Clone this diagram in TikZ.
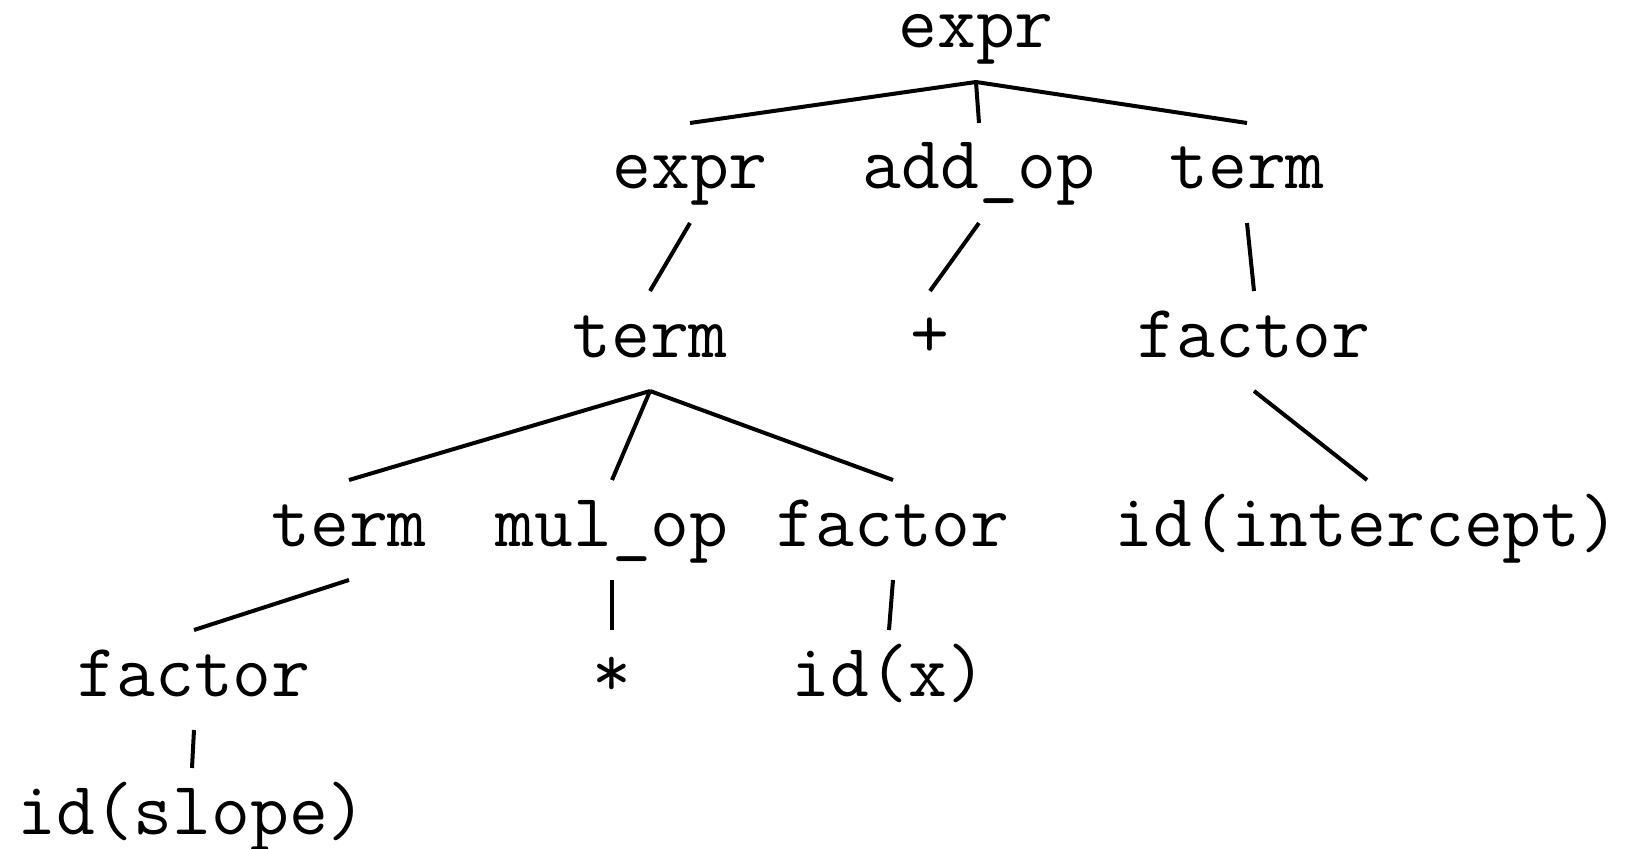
\documentclass[tikz,border=0pt]{standalone}
\usepackage{fontspec}
\usepackage{tikz}

\begin{document}
\begin{tikzpicture}[x=0.5pt, y=0.5pt, line width=2pt,
        sym/.style={inner sep=0pt, outer sep=0pt,
                    text height=16pt, text depth=0pt,
                    font=\ttfamily\fontsize{37.7}{45}\selectfont}]
        \useasboundingbox (0,0) rectangle (1645,848);

        % 第0层
        \node[sym] (root) at (976,816) {expr};

        % 第1层
        \node[sym] (expr1) at (690,675) {expr};
        \node[sym] (addop) at (979,675) {add\_op};
        \node[sym] (term1) at (1247,675) {term};

        % 第2层
        \node[sym] (term2) at (650,507) {term};
        \node[sym] (plus) at (930,507) {+};
        \node[sym] (fac1) at (1254,507) {factor};

        % 第3层
        \node[sym] (term3) at (349,318) {term};
        \node[sym] (mulop) at (612,318) {mul\_op};
        \node[sym] (fac2) at (893,318) {factor};
        \node[sym] (idint) at (1367,318) {id(intercept)};

        % 第4层
        \node[sym] (fac3) at (194,168) {factor};
        \node[sym] (star) at (612,168) {*};
        \node[sym] (idx) at (889,168) {id(x)};

        % 第5层
        \node[sym] (idslope) at (192,30) {id(slope)};

        % 连线 (父结点下方 -> 子结点上方)
        \foreach \p/\c in {root/expr1, root/addop, root/term1,
                           expr1/term2, addop/plus, term1/fac1,
                           term2/term3, term2/mulop, term2/fac2, fac1/idint,
                           term3/fac3, mulop/star, fac2/idx, fac3/idslope}
            \draw ([yshift=-17pt]\p.south) -- ([yshift=17pt]\c.north);

    \end{tikzpicture}
\end{document}
